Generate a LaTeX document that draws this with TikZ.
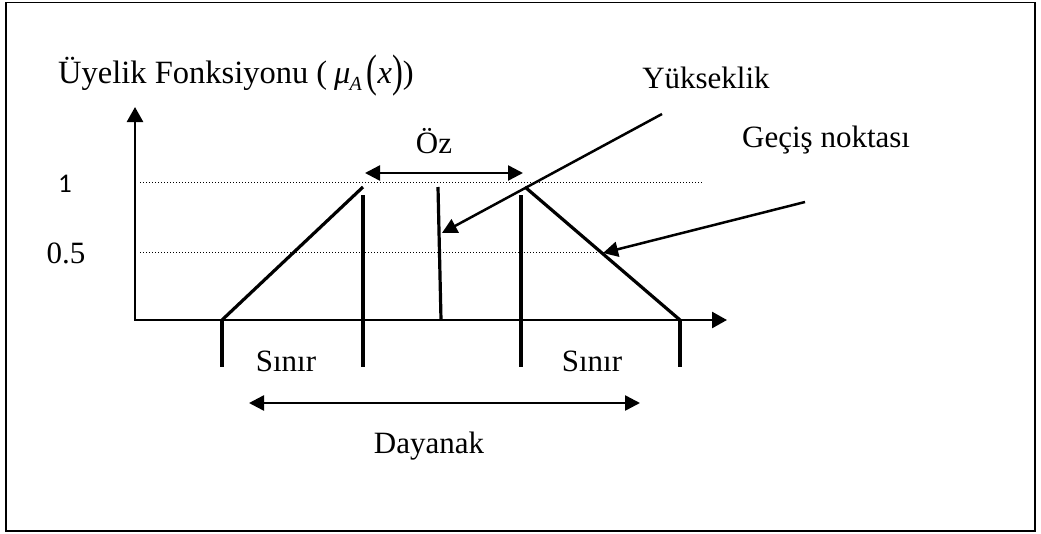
\documentclass[tikz,border=0pt]{standalone}
\usepackage{fontspec}
\setmainfont{Liberation Serif}
\newfontfamily\calibrifont{Carlito}
\usepackage{graphicx}
\usetikzlibrary{arrows.meta}
\begin{document}
\begin{tikzpicture}[x=1pt,y=-1pt,
  frame/.style={line width=1.5pt},
  heavy/.style={line width=3.2pt},
  axes/.style={line width=2.6pt,{Triangle[length=15pt,width=16pt]}-{Triangle[length=15pt,width=16pt]}},
  arr/.style={line width=2.5pt,-{Triangle[length=15pt,width=15pt]}},
  darr/.style={line width=2.5pt,{Triangle[length=15pt,width=15pt]}-{Triangle[length=15pt,width=15pt]}},
  guide/.style={line width=0.9pt,dash pattern=on 1pt off 2pt},
  lbl/.style={font=\fontsize{31}{36}\selectfont,inner sep=0pt},
  numlbl/.style={font=\calibrifont\fontsize{27}{32}\selectfont,inner sep=0pt}
]
\useasboundingbox (0,0) rectangle (1041,533);
\draw[frame] (6,2.5) rectangle (1035,531);

% axes
\coordinate (ytip) at (135,107);
\coordinate (O) at (135,320);
\coordinate (xtip) at (727,320);
\draw[axes,line join=miter] (ytip) -- (O) -- (xtip);

% guide lines
\coordinate (g1a) at (140,182);
\coordinate (g1b) at (702,182);
\coordinate (g2a) at (140,252);
\coordinate (g2b) at (603,252);
\draw[guide] (g1a) -- (g1b);
\draw[guide] (g2a) -- (g2b);

% membership function
\coordinate (a) at (222,320);
\coordinate (b) at (363,187);
\coordinate (c) at (525,187);
\coordinate (d) at (680,320);
\draw[heavy] (a) -- (b);
\draw[heavy] (c) -- (d);

% vertical marks
\coordinate (v1t) at (222,320); \coordinate (v1b) at (222,367);
\coordinate (v2t) at (363,195); \coordinate (v2b) at (363,367);
\coordinate (v3t) at (521,195); \coordinate (v3b) at (521,367);
\coordinate (v4t) at (680,320); \coordinate (v4b) at (680,367);
\draw[heavy] (v1t) -- (v1b);
\draw[heavy] (v2t) -- (v2b);
\draw[heavy] (v3t) -- (v3b);
\draw[heavy] (v4t) -- (v4b);
\coordinate (mt) at (438,187); \coordinate (mb) at (441,320);
\draw[heavy] (mt) -- (mb);

% labels
\node[lbl,font=\fontsize{32.5}{36}\selectfont,anchor=base west] (title) at (58,83) {Üyelik Fonksiyonu (\hspace{7pt}\textit{μ}\kern-1pt\raisebox{-7pt}{\fontsize{20}{20}\selectfont\textit{A}}\hspace{5pt}\raisebox{-3pt}{\scalebox{1}[1.4]{(}}\textit{x}\raisebox{-3pt}{\scalebox{1}[1.4]{)}})};
\node[numlbl,anchor=base] (one) at (65,192) {1};
\node[lbl,anchor=base] (half) at (66,263) {0.5};
\node[lbl,anchor=base] (oz) at (434,153) {Öz};
\node[lbl,anchor=base] (yuk) at (706,88) {Yükseklik};
\node[lbl,anchor=base west] (gecis) at (742,147) {Geçiş noktası};
\node[lbl,anchor=base] (sinir1) at (286,371) {Sınır};
\node[lbl,anchor=base] (sinir2) at (592,371) {Sınır};
\node[lbl,anchor=base] (dayanak) at (429,453) {Dayanak};

% arrows
\coordinate (ozL) at (365,173); \coordinate (ozR) at (523,173);
\draw[darr] (ozL) -- (ozR);
\coordinate (yS) at (662,114); \coordinate (yE) at (442,233);
\draw[arr] (yS) -- (yE);
\coordinate (gS) at (805,202); \coordinate (gE) at (603,253);
\draw[arr] (gS) -- (gE);
\coordinate (dL) at (249,403); \coordinate (dR) at (640,403);
\draw[darr] (dL) -- (dR);
\end{tikzpicture}
\end{document}
